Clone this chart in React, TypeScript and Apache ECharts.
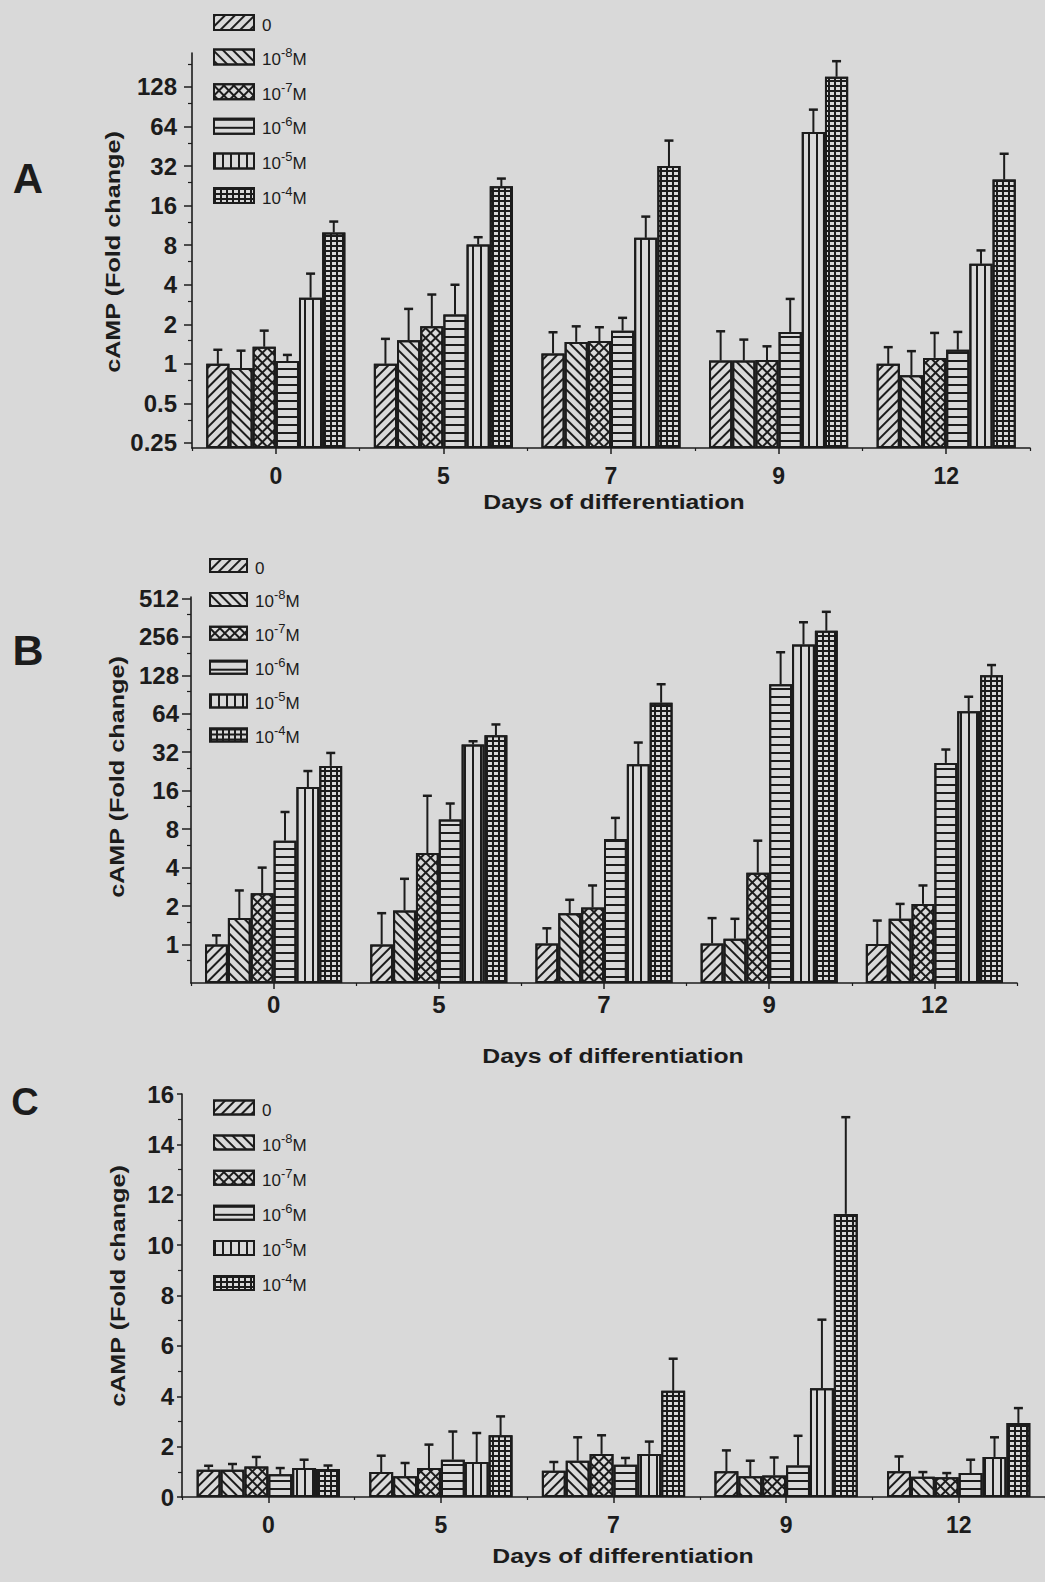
import React, { useEffect, useRef } from "react";
import * as echarts from "echarts";

// ---------- data ----------
const DAYS = ["0", "5", "7", "9", "12"];
const CONC = ["0", "10-8M", "10-7M", "10-6M", "10-5M", "10-4M"];

// Panel A (log2 axis) — rows: concentration, columns: day
const A_MEAN = [
  [1.0, 1.0, 1.2, 1.06, 1.0],
  [0.93, 1.51, 1.47, 1.06, 0.82],
  [1.35, 1.93, 1.49, 1.07, 1.11],
  [1.05, 2.37, 1.79, 1.75, 1.28],
  [3.19, 8.1, 9.1, 58, 5.77],
  [10.0, 22.5, 32, 153, 25.3],
];
const A_ERR = [
  [1.28, 1.55, 1.74, 1.77, 1.34],
  [1.26, 2.62, 1.93, 1.53, 1.25],
  [1.79, 3.37, 1.9, 1.36, 1.72],
  [1.17, 4.0, 2.24, 3.12, 1.75],
  [4.86, 9.2, 13.2, 86, 7.3],
  [12.1, 25.7, 50, 201, 39.7],
];
const A_TICKS = [0.25, 0.5, 1, 2, 4, 8, 16, 32, 64, 128];
const A_MINOR = [0.375, 0.75, 1.5, 3, 6, 12, 24, 48, 96, 192];
const A_RANGE = [0.229, 232];

// Panel B (log2 axis)
const B_MEAN = [
  [1.0, 1.0, 1.02, 1.02, 1.01],
  [1.61, 1.85, 1.76, 1.11, 1.59],
  [2.52, 5.2, 1.95, 3.65, 2.08],
  [6.5, 9.5, 6.7, 109, 26.4],
  [17.1, 36.8, 25.8, 223, 67],
  [25, 43.5, 78, 286, 128],
];
const B_ERR = [
  [1.18, 1.76, 1.34, 1.61, 1.54],
  [2.65, 3.27, 2.24, 1.59, 2.08],
  [4.0, 14.6, 2.9, 6.5, 2.9],
  [10.9, 12.7, 9.8, 194, 33.6],
  [22.8, 39, 38.1, 333, 87],
  [31.6, 52.8, 109, 402, 154],
];
const B_TICKS = [1, 2, 4, 8, 16, 32, 64, 128, 256, 512];
const B_MINOR = [0.75, 1.5, 3, 6, 12, 24, 48, 96, 192, 384];
const B_RANGE = [0.5, 525];

// Panel C (linear axis)
const C_MEAN = [
  [1.08, 0.99, 1.04, 1.02, 1.02],
  [1.08, 0.82, 1.44, 0.82, 0.8],
  [1.21, 1.15, 1.71, 0.85, 0.78],
  [0.9, 1.48, 1.28, 1.25, 0.95],
  [1.15, 1.39, 1.71, 4.32, 1.59],
  [1.11, 2.45, 4.22, 11.24, 2.94],
];
const C_ERR = [
  [1.24, 1.64, 1.39, 1.85, 1.61],
  [1.31, 1.35, 2.37, 1.44, 0.99],
  [1.59, 2.08, 2.45, 1.57, 0.95],
  [1.15, 2.6, 1.55, 2.43, 1.48],
  [1.48, 2.54, 2.2, 7.04, 2.37],
  [1.25, 3.2, 5.49, 15.08, 3.53],
];
const C_TICKS = [0, 2, 4, 6, 8, 10, 12, 14, 16];
const C_MINOR = [1, 3, 5, 7, 9, 11, 13, 15];
const C_RANGE = [0, 16];

const X_TITLE = "Days of differentiation";
const Y_TITLE = "cAMP (Fold change)";

// ---------- styles ----------
const FONT = '"Liberation Sans", Arial, Helvetica, sans-serif';
const BG = "#d9d9d9";
const INK = "#1c1c1c";
const GAP = 0.17;

const decalBase = {
  color: INK,
  backgroundColor: null,
  symbol: "rect",
  symbolSize: 1,
  symbolKeepAspect: false,
};
const DECALS = [
  { ...decalBase, dashArrayX: [8, 0], dashArrayY: [2, 5], rotation: -Math.PI / 4 },
  { ...decalBase, dashArrayX: [8, 0], dashArrayY: [2, 5], rotation: Math.PI / 4 },
  { ...decalBase, dashArrayX: [[7, 0], [2, 5]], dashArrayY: [2, 0, 5, 0], rotation: Math.PI / 4 },
  { ...decalBase, dashArrayX: [8, 0], dashArrayY: [2, 6], rotation: 0 },
  { ...decalBase, dashArrayX: [2, 6], dashArrayY: [8, 0], rotation: 0 },
  { ...decalBase, dashArrayX: [[6, 0], [2, 4]], dashArrayY: [2, 0, 3, 0], rotation: 0 },
];

type PanelSpec = {
  letter: string;
  letterPos: [number, number];
  letterSize: number;
  grid: [number, number, number, number];
  log: boolean;
  range: number[];
  ticks: number[];
  minor: number[];
  mean: number[][];
  err: number[][];
  legend: { left: number; top: number; w: number; h: number; gap: number };
  yLabelMargin: number;
  yTickLen: number;
  yFont: number;
  xLabelMargin: number;
  xFont: number;
  yTitlePos: [number, number];
  xTitlePos: [number, number];
};

const PANELS: PanelSpec[] = [
  {
    letter: "A", letterPos: [28, 178], letterSize: 42,
    grid: [192, 53, 838, 395], log: true, range: A_RANGE, ticks: A_TICKS, minor: A_MINOR,
    mean: A_MEAN, err: A_ERR,
    legend: { left: 208, top: 9, w: 40, h: 15, gap: 12.6 },
    yLabelMargin: 15, yTickLen: 8, yFont: 24, xLabelMargin: 16, xFont: 23,
    yTitlePos: [113, 252], xTitlePos: [614, 502],
  },
  {
    letter: "B", letterPos: [28, 650], letterSize: 43,
    grid: [191, 597, 826, 386], log: true, range: B_RANGE, ticks: B_TICKS, minor: B_MINOR,
    mean: B_MEAN, err: B_ERR,
    legend: { left: 204, top: 552, w: 37, h: 13, gap: 11.9 },
    yLabelMargin: 12, yTickLen: 9, yFont: 24, xLabelMargin: 9, xFont: 24,
    yTitlePos: [117, 777], xTitlePos: [613, 1056],
  },
  {
    letter: "C", letterPos: [25, 1102], letterSize: 38,
    grid: [182, 1094, 867, 403], log: false, range: C_RANGE, ticks: C_TICKS, minor: C_MINOR,
    mean: C_MEAN, err: C_ERR,
    legend: { left: 208, top: 1094, w: 40, h: 14, gap: 13.1 },
    yLabelMargin: 8, yTickLen: 5, yFont: 24, xLabelMargin: 16, xFont: 23,
    yTitlePos: [118, 1286], xTitlePos: [623, 1556],
  },
];

function legendFormatter(name: string) {
  const m = /^10(-\d+)M$/.exec(name);
  if (!m) return "{p|}{b|" + name + "}";
  return "{p|}{b|10}{s|" + m[1] + "}{b|M}";
}

function buildOption() {
  const grid: any[] = [];
  const xAxis: any[] = [];
  const yAxis: any[] = [];
  const series: any[] = [];
  const legend: any[] = [];
  const graphic: any[] = [];

  PANELS.forEach((p, pi) => {
    const lo = p.range[0];
    const tf = p.log
      ? (v: number) => Math.log2(v) - Math.log2(lo)
      : (v: number) => v;
    const inv = p.log ? (t: number) => lo * Math.pow(2, t) : (t: number) => t;
    const yMax = tf(p.range[1]);

    grid.push({ left: p.grid[0], top: p.grid[1], width: p.grid[2], height: p.grid[3] });

    const xMain = xAxis.length;
    xAxis.push({
      type: "category",
      gridIndex: pi,
      position: "bottom",
      data: DAYS,
      boundaryGap: true,
      axisLine: { show: true, onZero: false, lineStyle: { color: INK, width: 1.6 } },
      axisTick: { show: true, alignWithLabel: true, interval: 0, length: 6, lineStyle: { color: INK, width: 1.5 } },
      axisLabel: {
        interval: 0, margin: p.xLabelMargin, fontFamily: FONT, fontWeight: "bold",
        fontSize: p.xFont, color: INK,
      },
      splitLine: { show: false },
    });
    xAxis.push({
      type: "category",
      gridIndex: pi,
      position: "bottom",
      data: DAYS,
      boundaryGap: true,
      axisLine: { show: false, onZero: false },
      axisTick: { show: true, interval: 0, length: 3, lineStyle: { color: INK, width: 1.2 } },
      axisLabel: { show: false },
      splitLine: { show: false },
    });

    const yMain = yAxis.length;
    const tickT = p.ticks.map(tf);
    yAxis.push({
      type: "value",
      gridIndex: pi,
      position: "left",
      min: 0,
      max: yMax,
      axisLine: { show: true, onZero: false, lineStyle: { color: INK, width: 1.6 } },
      axisTick: { show: true, length: p.yTickLen, customValues: tickT, lineStyle: { color: INK, width: 1.5 } },
      axisLabel: {
        show: true,
        customValues: tickT,
        margin: p.yLabelMargin,
        fontFamily: FONT,
        fontWeight: "bold",
        fontSize: p.yFont,
        color: INK,
        formatter: (t: number) => {
          const v = inv(t);
          let best = p.ticks[0];
          p.ticks.forEach((k) => {
            if (Math.abs(k - v) < Math.abs(best - v)) best = k;
          });
          return String(best);
        },
      },
      splitLine: { show: false },
    });
    yAxis.push({
      type: "value",
      gridIndex: pi,
      position: "left",
      offset: 0,
      min: 0,
      max: yMax,
      axisLine: { show: false, onZero: false },
      axisTick: { show: true, length: 4, customValues: p.minor.map(tf), lineStyle: { color: INK, width: 1.2 } },
      axisLabel: { show: false },
      splitLine: { show: false },
    });

    CONC.forEach((name, si) => {
      series.push({
        type: "bar",
        name,
        xAxisIndex: xMain,
        yAxisIndex: yMain,
        data: p.mean[si].map(tf),
        barGap: "0%",
        barCategoryGap: GAP * 100 + "%",
        itemStyle: { color: BG, borderColor: INK, borderWidth: 2, decal: DECALS[si] },
        emphasis: { disabled: true },
        silent: true,
      });
    });

    const errData: number[][] = [];
    CONC.forEach((_, si) => {
      DAYS.forEach((__, di) => {
        errData.push([di, si, tf(p.mean[si][di]), tf(p.err[si][di])]);
      });
    });
    series.push({
      type: "custom",
      coordinateSystem: "cartesian2d",
      xAxisIndex: xMain,
      yAxisIndex: yMain,
      data: errData,
      encode: { x: 0, y: [2, 3] },
      z: 5,
      silent: true,
      renderItem: (params: any, api: any) => {
        const cat = api.value(0);
        const s = api.value(1);
        const base = api.coord([cat, api.value(2)]);
        const top = api.coord([cat, api.value(3)]);
        const band = api.size([1, 0])[0];
        const bw = (band * (1 - GAP)) / CONC.length;
        const x = base[0] + (s - (CONC.length - 1) / 2) * bw;
        const st = { stroke: INK, lineWidth: 2 };
        return {
          type: "group",
          children: [
            { type: "line", shape: { x1: x, y1: base[1], x2: x, y2: top[1] }, style: st },
            { type: "line", shape: { x1: x - 4.5, y1: top[1], x2: x + 4.5, y2: top[1] }, style: { stroke: INK, lineWidth: 2.5 } },
          ],
        };
      },
    });

    legend.push({
      orient: "vertical",
      left: p.legend.left,
      top: p.legend.top,
      itemWidth: p.legend.w,
      itemHeight: p.legend.h,
      itemGap: p.legend.gap,
      icon: "rect",
      selectedMode: false,
      data: CONC,
      formatter: legendFormatter,
      textStyle: {
        color: INK,
        fontFamily: FONT,
        rich: {
          p: { width: 3, lineHeight: 22, fontSize: 17 },
          b: { fontSize: 17, lineHeight: 22, verticalAlign: "bottom", fontFamily: FONT, color: INK },
          s: { fontSize: 13, lineHeight: 12, verticalAlign: "top", fontFamily: FONT, color: INK },
        },
      },
    });

    graphic.push({
      type: "text",
      x: p.letterPos[0],
      y: p.letterPos[1],
      style: {
        text: p.letter, fontFamily: FONT, fontWeight: "bold", fontSize: p.letterSize, fill: INK,
        textAlign: "center", textVerticalAlign: "middle", align: "center", verticalAlign: "middle",
      },
    });
    graphic.push({
      type: "text",
      x: p.yTitlePos[0],
      y: p.yTitlePos[1],
      rotation: Math.PI / 2,
      scaleX: 1.2,
      style: {
        text: Y_TITLE, fontFamily: FONT, fontWeight: "bold", fontSize: 21, fill: INK,
        textAlign: "center", textVerticalAlign: "middle", align: "center", verticalAlign: "middle",
      },
    });
    graphic.push({
      type: "text",
      x: p.xTitlePos[0],
      y: p.xTitlePos[1],
      scaleX: 1.18,
      style: {
        text: X_TITLE, fontFamily: FONT, fontWeight: "bold", fontSize: 21, fill: INK,
        textAlign: "center", textVerticalAlign: "middle", align: "center", verticalAlign: "middle",
      },
    });
  });

  return {
    animation: false,
    backgroundColor: BG,
    grid,
    xAxis,
    yAxis,
    series,
    legend,
    graphic,
  };
}

function Chart() {
  const ref = useRef<HTMLDivElement>(null);
  useEffect(() => {
    document.body.style.margin = "0";
    document.body.style.background = BG;
    document.body.style.overflow = "hidden";
    const chart = echarts.init(ref.current as HTMLDivElement, null, { renderer: "svg" });
    chart.setOption(buildOption() as any);
    return () => chart.dispose();
  }, []);
  return (
    <div
      ref={ref}
      style={{ position: "absolute", left: 0, top: 0, width: 1045, height: 1582, background: BG }}
    />
  );
}

export default function App() {
  return <Chart />;
}
